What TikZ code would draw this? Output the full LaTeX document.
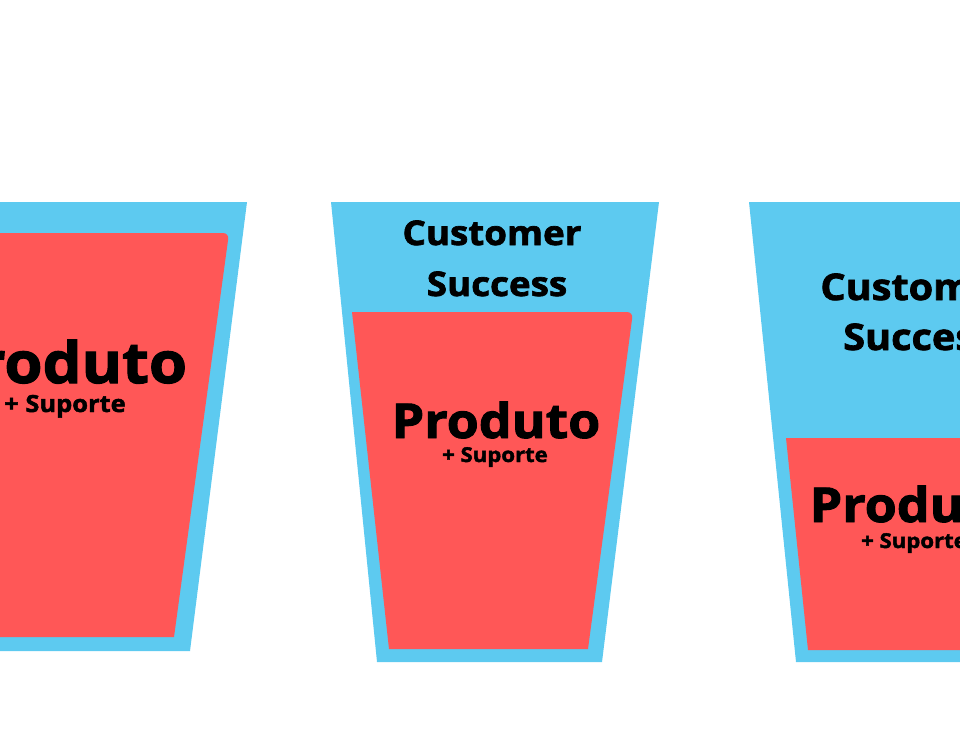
\documentclass[tikz,border=0pt]{standalone}
\usepackage{fontspec}
\setmainfont{Open Sans}
\newfontfamily\heavy{Open Sans}[BoldFeatures={FakeBold=2, FakeStretch=1.08}]
\usepackage{tikz}

\definecolor{glassblue}{HTML}{5DCAF0}
\definecolor{juicered}{HTML}{FF5757}

\begin{document}
\begin{tikzpicture}[x=1pt, y=-1pt, cup/.style = {fill=glassblue}, liquid/.style = {fill=juicered},
  label/.style = {anchor=base, inner sep=0pt, text=black},
  big/.style = {label, font=\heavy\fontsize{48}{48}\selectfont\bfseries},
  mid/.style = {label, font=\heavy\fontsize{34}{34}\selectfont\bfseries},
  small/.style = {label, font=\heavy\fontsize{20.5}{20.5}\selectfont\bfseries}]
\useasboundingbox (0,0) rectangle (960,750);
\clip (0,0) rectangle (960,750);
% cups
\fill[cup] (-81,202) -- (247,202) -- (190,651) -- (-35,651) -- cycle;
\fill[cup] (331,202) -- (659,202) -- (602,662) -- (377,662) -- cycle;
\fill[cup] (749,202) -- (1077,202) -- (1020,662) -- (796,662) -- cycle;
% liquid
\fill[liquid] (-20,637) -- (-60,233) [rounded corners=6pt] -- (229,233) [sharp corners] -- (174,637) -- cycle;
\fill[liquid] (389,649) -- (352,312) [rounded corners=6pt] -- (633,312) [sharp corners] -- (588,649) -- cycle;
\fill[liquid] (808,650) -- (786,438) -- (1060,438) -- (1040,650) -- cycle;
% texts
\node[big, scale=1.19] (prodA) at (63,383) {Produto};
\node[small, scale=1.15] (supA) at (65,412) {+ Suporte};
\node[mid] (custB) at (492,245) {Customer};
\node[mid] (succB) at (497,296) {Success};
\node[big] (prodB) at (496,438) {Produto};
\node[small] (supB) at (495,462) {+ Suporte};
\node[mid, scale=1.08] (custC) at (917,300) {Customer};
\node[mid, scale=1.08] (succC) at (919,350) {Success};
\node[big] (prodC) at (914,522) {Produto};
\node[small] (supC) at (914,548) {+ Suporte};
\end{tikzpicture}
\end{document}
